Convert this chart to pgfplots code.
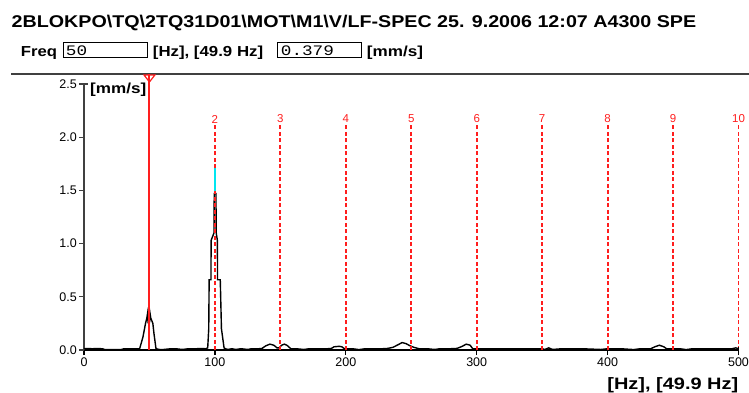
\documentclass[border=0pt]{standalone}
\usepackage{fontspec}
\setmainfont{Liberation Sans}
\setmonofont{Liberation Mono}
\usepackage{graphicx}
\usepackage{pgfplots}
\pgfplotsset{compat=1.18}
\definecolor{hred}{RGB}{255,30,30}
\definecolor{axgray}{RGB}{64,64,64}
\definecolor{tcyan}{RGB}{0,230,240}
\pgfplotstableread{
hz val
0 0.012
3 0.014
6 0.012
10 0.013
14 0.012
16 0.004
20 0.003
25 0.004
28 0.003
30 0.010
35 0.011
40 0.010
42.5 0.012
45 0.12
47 0.25
48 0.30
48.5 0.34
49 0.25
49.5 0.34
50 0.25
50.5 0.34
51 0.30
52.6 0.25
53.5 0.15
55 0.012
58 0.004
60 0.004
65 0.010
70 0.012
75 0.005
80 0.012
85 0.012
90 0.013
93 0.012
94.5 0.02
95.3 0.2
95.6 0.66
97 0.66
97.1 1.03
99.3 1.1
99.5 1.47
100.8 1.47
101.0 1.1
101.9 1.03
102.0 0.66
104.1 0.66
105 0.2
107 0.02
108 0.012
110 0.005
113 0.012
116 0.005
120 0.012
125 0.005
128 0.012
132 0.010
136 0.015
139 0.040
142 0.055
145 0.045
147.5 0.020
149 0.020
151 0.045
153 0.055
155 0.045
158 0.012
162 0.012
168 0.005
172 0.012
180 0.012
186 0.012
189 0.015
191 0.030
195 0.035
197 0.030
199 0.012
205 0.012
210 0.004
215 0.012
222 0.012
228 0.012
232 0.015
236 0.025
240 0.050
243 0.070
246 0.060
249 0.040
252 0.025
256 0.012
262 0.012
268 0.005
272 0.012
280 0.012
285 0.015
289 0.035
292 0.055
295 0.045
297 0.012
302 0.012
310 0.012
320 0.012
330 0.012
340 0.012
350 0.012
352 0.005
355 0.020
358 0.005
365 0.012
380 0.012
395 0.005
400 0.012
410 0.012
420 0.004
425 0.012
433 0.012
436 0.030
439.5 0.045
443 0.030
445 0.012
455 0.012
460 0.004
465 0.012
480 0.012
495 0.012
498 0.020
500 0.012
}\spectrum
\newcommand{\tfont}{\fontsize{17}{20}\selectfont\bfseries}
\newcommand{\rfont}{\fontsize{14.5}{17}\selectfont\bfseries}
\newcommand{\mfont}{\fontsize{14.5}{17}\selectfont\ttfamily}
\begin{document}
\begin{tikzpicture}
\useasboundingbox (0pt,0pt) rectangle (749pt,392pt);
% title
\node[anchor=base west, inner sep=0pt] at (11.5pt,364.3pt)
  {\scalebox{1.158}[1]{\tfont 2BLOKPO\textbackslash TQ\textbackslash 2TQ31D01\textbackslash MOT\textbackslash M1\textbackslash V/LF-SPEC 25. 9.2006 12:07 A4300 SPE}};
% freq row
\node[anchor=base west, inner sep=0pt] at (20.7pt,335.5pt) {\scalebox{1.15}[1]{\rfont Freq}};
\draw[black, line width=1pt] (63.5pt,335pt) rectangle (147.5pt,350pt);
\node[anchor=base west, inner sep=0pt] at (65.7pt,336.3pt) {\scalebox{1.22}[1]{\mfont 50}};
\node[anchor=base west, inner sep=0pt] at (152.7pt,335.5pt) {\scalebox{1.16}[1]{\rfont [Hz], [49.9 Hz]}};
\draw[black, line width=1pt] (277.5pt,335pt) rectangle (361.7pt,350pt);
\node[anchor=base west, inner sep=0pt] at (280.7pt,336.3pt) {\scalebox{1.22}[1]{\mfont 0.379}};
\node[anchor=base west, inner sep=0pt] at (366.7pt,335.5pt) {\scalebox{1.18}[1]{\rfont [mm/s]}};
% separator line
\draw[axgray, line width=2pt] (11pt,318pt) -- (749pt,318pt);
\begin{axis}[
  at={(84pt,42pt)}, anchor=south west,
  scale only axis, width=654.5pt, height=266pt,
  xmin=0, xmax=500, ymin=0, ymax=2.5,
  clip=false,
  axis x line*=bottom, axis y line*=left,
  x axis line style={-, black, line width=1.8pt},
  y axis line style={-, axgray, line width=1.4pt},
  xtick={0,100,...,500},
  ytick={0,0.5,...,2.5},
  tick align=outside,
  major tick length=5pt,
  xtick style={black, line width=1.2pt},
  ytick style={axgray, line width=1.2pt},
  /pgf/number format/assume math mode=true,
  ticklabel style={font=\fontsize{12.5}{14}\selectfont},
  yticklabel style={/pgf/number format/fixed, /pgf/number format/fixed zerofill, /pgf/number format/precision=1, inner xsep=2pt},
  xticklabel style={inner ysep=3pt},
  hline/.style={hred, line width=1.8pt, dash pattern=on 4pt off 2.5pt, no marks},
]
\addplot[black, line width=1.4pt, sharp plot, no marks] table[x=hz, y=val] {\spectrum};
\addplot[hline] coordinates {(100,0)(100,2.115)};
\addplot[hline] coordinates {(150,0)(150,2.115)};
\addplot[hline] coordinates {(200,0)(200,2.115)};
\addplot[hline] coordinates {(250,0)(250,2.115)};
\addplot[hline] coordinates {(300,0)(300,2.115)};
\addplot[hline] coordinates {(350,0)(350,2.115)};
\addplot[hline] coordinates {(400,0)(400,2.115)};
\addplot[hline] coordinates {(450,0)(450,2.115)};
\addplot[hline] coordinates {(500,0)(500,2.115)};
\addplot[tcyan, line width=1.8pt, no marks] coordinates {(50,0.345)(50,0.405)};
\addplot[tcyan, line width=1.8pt, no marks] coordinates {(100,1.49)(100,1.71)};
\addplot[hred, line width=2pt, no marks] coordinates {(50,0)(50,2.594)};
\addplot[hred, only marks, mark=triangle, mark size=4.67pt, mark options={rotate=180, xscale=1.35, line width=1.2pt, fill=white}] coordinates {(50,2.563)};
\foreach \k/\x in {2/100,3/150,4/200,5/250,6/300,7/350,8/400,9/450,10/500} {
  \edef\temp{\noexpand\node[hred, font=\noexpand\fontsize{11.5}{13}\noexpand\selectfont, inner sep=0pt] at (axis cs:\x,2.171) {\k};}
  \temp
}
\draw[axgray, line width=1.2pt] (axis cs:0,2.5) -- ++(4pt,0pt);
\draw[black, line width=1pt] (axis cs:500,0) -- ++(0pt,3pt);
\end{axis}
\node[anchor=base west, inner sep=0pt] at (90pt,299pt) {\scalebox{1.18}[1]{\rfont [mm/s]}};
\node[anchor=base east, inner sep=0pt] at (738.5pt,2.7pt) {\scalebox{1.21}[1]{\fontsize{16.5}{19}\selectfont\bfseries [Hz], [49.9 Hz]}};
\end{tikzpicture}
\end{document}
